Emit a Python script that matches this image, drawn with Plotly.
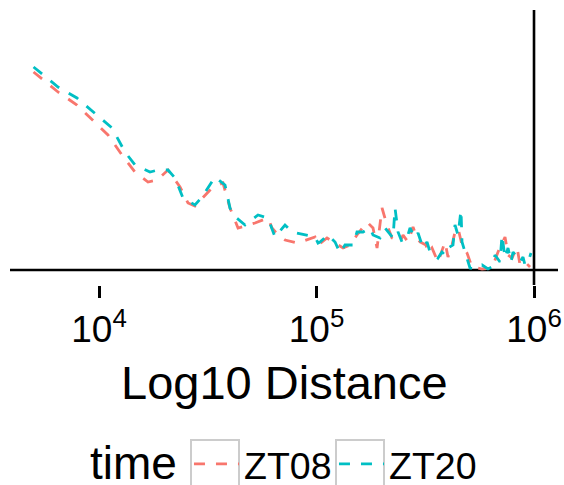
import plotly.graph_objects as go

# ZT08 (red) — distance in bp, value (arbitrary units)
zt08_dist = [5000, 6480, 7920, 9380, 11000, 12750, 14640, 16800, 18480, 20760,
             23580, 25660, 27630, 33080, 37160, 40020, 43570, 52140, 59840, 62440,
             66530, 71640, 82190, 98420, 101600, 111760, 119100, 132410, 142560, 153510,
             170700, 181880, 189800, 200100, 210900, 222400, 242000, 249900, 263500, 277800,
             289800, 299200, 318700, 325500, 339630, 361910, 389740, 402310, 419800, 433260,
             447250, 466620, 492000, 518700, 576600, 641000, 683100, 735700, 759500, 792500,
             835400, 862300, 909200, 958600]
zt08_val = [1.98, 1.78, 1.65, 1.50, 1.35, 1.15, 0.98, 0.88, 0.90, 1.00,
            0.83, 0.67, 0.64, 0.82, 0.87, 0.62, 0.42, 0.47, 0.52, 0.42,
            0.35, 0.30, 0.27, 0.33, 0.25, 0.32, 0.28, 0.22, 0.25, 0.35,
            0.48, 0.42, 0.22, 0.62, 0.45, 0.32, 0.28, 0.35, 0.28, 0.43,
            0.32, 0.28, 0.25, 0.17, 0.22, 0.08, 0.28, 0.13, 0.25, 0.38,
            0.42, 0.25, 0.17, 0.03, 0.01, 0.02, 0.18, 0.33, 0.15, 0.12,
            0.23, 0.05, 0.08, 0.03]

# ZT20 (cyan)
zt20_dist = [5000, 6480, 7920, 9590, 11480, 13170, 14640, 17160, 18670, 20760,
             22360, 24330, 27630, 29760, 34150, 37960, 40020, 41320, 46930, 53830,
             59840, 64440, 71640, 77150, 88540, 98420, 101600, 103780, 112980, 121680,
             128230, 135210, 147140, 153510, 163620, 176200, 181880, 195890, 206540, 213220,
             224820, 229620, 237040, 247310, 260740, 269160, 283800, 292960, 308870, 322100,
             332500, 339630, 361910, 377560, 389740, 402310, 424170, 433260, 447250, 461700,
             466620, 481680, 497230, 507800, 535400, 576600, 614400, 641000, 661700, 697700,
             712700, 735700, 759500, 784000, 800800, 835400, 862300, 890200, 909200, 938600,
             968700]
zt20_val = [2.03, 1.83, 1.72, 1.57, 1.42, 1.18, 1.05, 0.98, 1.00, 1.00,
            0.92, 0.72, 0.65, 0.73, 0.93, 0.85, 0.62, 0.55, 0.45, 0.55,
            0.52, 0.33, 0.45, 0.38, 0.35, 0.33, 0.27, 0.28, 0.35, 0.28,
            0.17, 0.25, 0.25, 0.38, 0.38, 0.42, 0.35, 0.32, 0.42, 0.38,
            0.32, 0.62, 0.38, 0.28, 0.32, 0.42, 0.32, 0.37, 0.22, 0.28,
            0.18, 0.18, 0.12, 0.18, 0.15, 0.22, 0.25, 0.45, 0.35, 0.60,
            0.28, 0.18, 0.08, 0.02, 0.01, 0.05, 0.01, 0.03, 0.15, 0.08,
            0.35, 0.12, 0.22, 0.08, 0.18, 0.12, 0.08, 0.13, 0.05, 0.08,
            0.17]

tick_vals = [1e4, 1e5, 1e6]
tick_text = ["10<sup>4</sup>", "10<sup>5</sup>", "10<sup>6</sup>"]
series_names = ["ZT08", "ZT20"]
series_colors = ["#F8766D", "#00BFC4"]

fig = go.Figure()
for name, xs, ys, col in zip(series_names, [zt08_dist, zt20_dist], [zt08_val, zt20_val], series_colors):
    fig.add_trace(go.Scatter(x=xs, y=ys, mode="lines", name=name,
                             line=dict(color=col, width=2.8, dash="11px,11px")))

fig.add_hline(y=0, line=dict(color="black", width=2.6), layer="below")
fig.add_vline(x=1e6, line=dict(color="black", width=2.6), layer="below")

fig.add_annotation(text="Log10 Distance", xref="paper", yref="paper", x=0.5, y=-0.356,
                   xanchor="center", yanchor="middle", showarrow=False,
                   font=dict(size=47))
# legend title
fig.add_annotation(text="time", xref="paper", yref="paper", x=(88 - 10) / 548, y=-0.649,
                   xanchor="left", yanchor="middle", showarrow=False,
                   font=dict(size=46))

# legend key boxes (ggplot-style key background borders)
for bx0, bx1 in [(0.3303, 0.4179), (0.5949, 0.6825)]:
    fig.add_shape(type="rect", xref="paper", yref="paper", x0=bx0, x1=bx1,
                  y0=-0.5636, y1=-0.7345, line=dict(color="#cccccc", width=2),
                  fillcolor="rgba(0,0,0,0)", layer="above")

fig.update_layout(
    width=564, height=485,
    margin=dict(l=10, r=6, t=10, b=200, autoexpand=False),
    plot_bgcolor="white", paper_bgcolor="white",
    font=dict(family="Liberation Sans, Arial, sans-serif", color="black"),
    showlegend=True,
    legend=dict(orientation="h", x=0.3266, xanchor="left", y=-0.651, yanchor="middle",
                font=dict(size=37.5), itemwidth=45, entrywidth=85,
                bgcolor="rgba(0,0,0,0)"),
    xaxis=dict(type="log", range=[3.5908, 6.1103], tickvals=tick_vals, ticktext=tick_text,
               ticks="outside", ticklen=12, tickwidth=2.5, tickcolor="black",
               tickfont=dict(size=37), showgrid=False, zeroline=False, showline=False,
               automargin=False),
    yaxis=dict(range=[-0.15, 2.6], showticklabels=False, showgrid=False, zeroline=False,
               showline=False, ticks="", automargin=False),
)

fig.write_html("out.html", config={"displayModeBar": False},
               post_script="document.body.style.margin='0';document.body.style.overflow='hidden';")
